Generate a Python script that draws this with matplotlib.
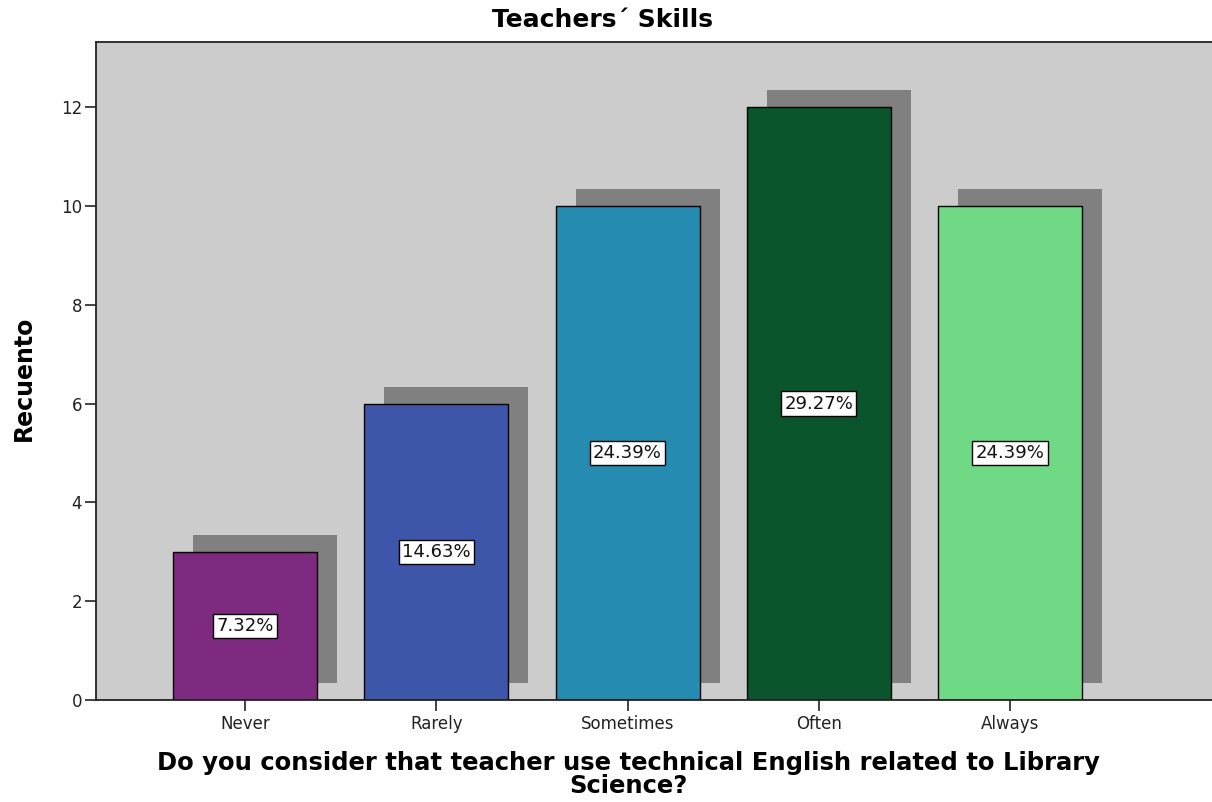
import matplotlib.pyplot as plt
from matplotlib.patches import Rectangle

categories = ["Never", "Rarely", "Sometimes", "Often", "Always"]
counts = [3, 6, 10, 12, 10]
pct_labels = ["7.32%", "14.63%", "24.39%", "29.27%", "24.39%"]
colors = ["#7d2a80", "#3e56a9", "#268bb0", "#0b552c", "#6fd985"]

plt.rcParams["font.family"] = ["DejaVu Sans"]

W, H = 1212, 802
fig = plt.figure(figsize=(W / 100, H / 100), dpi=100)
ax = fig.add_axes([96 / W, 102 / H, 1 - 96 / W, (700 - 42) / H])
ax.set_facecolor("#cccccc")

width = 0.753
# sombra desplazada (estilo SPSS)
dx, dy = 0.105, 0.34
for i, c in enumerate(counts):
    ax.add_patch(Rectangle((i - width / 2 + dx, dy), width, c,
                           facecolor="#808080", edgecolor="none", zorder=1))

ax.bar(range(len(counts)), counts, width=width, color=colors,
       edgecolor="black", linewidth=1.0, zorder=2)

for i, (c, lab) in enumerate(zip(counts, pct_labels)):
    ax.text(i, c / 2, lab, ha="center", va="center", fontsize=13, color="#111111",
            zorder=3,
            bbox=dict(boxstyle="square,pad=0.18", facecolor="white",
                      edgecolor="black", linewidth=1.0))

ax.set_xlim(-0.779, 5.056)
ax.set_ylim(0, 13.32)
ax.set_yticks(range(0, 13, 2))
ax.set_xticks(range(len(categories)))
ax.set_xticklabels(categories)
ax.tick_params(axis="both", direction="out", length=8, width=1.2,
               labelsize=12, labelcolor="#222222", color="#222222")
ax.tick_params(axis="y", pad=2)
ax.tick_params(axis="x", pad=3)

for side in ["left", "bottom", "top"]:
    ax.spines[side].set_linewidth(1.3)
    ax.spines[side].set_color("#222222")
ax.spines["right"].set_visible(False)

fig.text(24 / W, 1 - 378 / H, "Recuento", rotation=90, ha="center", va="center",
         fontsize=17, fontweight="bold")
fig.text(602 / W, 1 - 20 / H, "Teachers\u00b4 Skills", ha="center", va="center",
         fontsize=18, fontweight="bold")
fig.text(628 / W, 1 - 763 / H,
         "Do you consider that teacher use technical English related to Library",
         ha="center", va="center", fontsize=17.5, fontweight="bold")
fig.text(628 / W, 1 - 786 / H, "Science?", ha="center", va="center",
         fontsize=17.5, fontweight="bold")

fig.savefig("out.png", dpi=100)
